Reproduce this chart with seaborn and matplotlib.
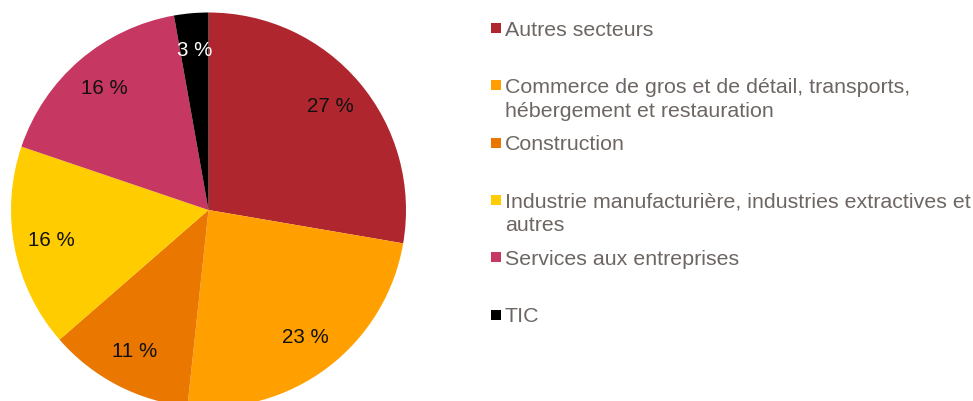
import matplotlib
matplotlib.use("Agg")
import matplotlib.pyplot as plt
from matplotlib.patches import Rectangle
import seaborn as sns

categories = [
    "Autres secteurs",
    "Commerce de gros et de détail, transports,\nhébergement et restauration",
    "Construction",
    "Industrie manufacturière, industries extractives et\nautres",
    "Services aux entreprises",
    "TIC",
]
values = [27.7, 24.0, 11.9, 16.6, 17.0, 2.8]
pct_labels = ["27 %", "23 %", "11 %", "16 %", "16 %", "3 %"]
colors = ["#B0262F", "#FFA000", "#E97700", "#FFCC00", "#C63762", "#000000"]
pct_text_colors = ["#111111", "#111111", "#111111", "#111111", "#111111", "#FFFFFF"]

sns.set_theme(style="white")
plt.rcParams["font.family"] = ["Liberation Sans", "DejaVu Sans"]
palette = sns.color_palette(colors)

W, H, DPI = 973, 401, 100
fig = plt.figure(figsize=(W / DPI, H / DPI), dpi=DPI)
fig.patch.set_facecolor("white")

cx, cy, r = 208.5, 210.0, 197.5
ax = fig.add_axes([(cx - r) / W, (H - cy - r) / H, 2 * r / W, 2 * r / H])
wedges, _, autotexts = ax.pie(
    values,
    colors=palette,
    startangle=90,
    counterclock=False,
    autopct="%1.0f",
    pctdistance=0.81,
    wedgeprops=dict(linewidth=0),
)
for t, lab, c in zip(autotexts, pct_labels, pct_text_colors):
    t.set_text(lab)
    t.set_color(c)
    t.set_fontsize(14.8)
ax.set_xlim(-1, 1)
ax.set_ylim(-1, 1)
ax.axis("off")

# legend (manual, Excel-like spacing)
text_color = "#6D6663"
x_marker, x_text = 490.5, 505.0
first_baseline, step, line_h = 35.5, 57.3, 24.0
for i, (cat, col) in enumerate(zip(categories, palette)):
    base = first_baseline + i * step
    fig.patches.append(Rectangle((x_marker / W, (H - base + 2.5) / H), 10 / W, 10 / H,
                                 transform=fig.transFigure, facecolor=col, edgecolor="none"))
    for j, line in enumerate(cat.split("\n")):
        fig.text(x_text / W, (H - base - j * line_h) / H, line, fontsize=15.4,
                 color=text_color, va="baseline", ha="left")

fig.savefig("out.png", dpi=DPI, facecolor="white")
